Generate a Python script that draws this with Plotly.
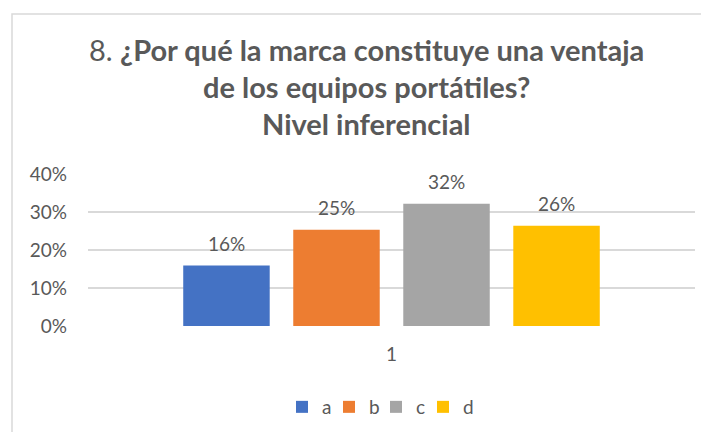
import plotly.graph_objects as go

categories = ["1"]
series_names = ["a", "b", "c", "d"]
series_values = [[0.159], [0.253], [0.322], [0.264]]
series_labels = ["16%", "25%", "32%", "26%"]
colors = ["#4472C4", "#ED7D31", "#A5A5A5", "#FFC000"]
y_ticks = [0, 0.1, 0.2, 0.3, 0.4]
y_ticklabels = ["0%", "10%", "20%", "30%", "40%"]

TXT = "#595959"
FONT = "Lato, Open Sans, sans-serif"
BARGAP = 0.275
BARGROUPGAP = 0.214

fig = go.Figure()
for name, vals, col in zip(series_names, series_values, colors):
    fig.add_trace(go.Bar(
        x=categories, y=vals, name=name, marker=dict(color=col, line=dict(width=0)),
    ))
# invisible spacer legend entry so the last label is not clipped
fig.add_trace(go.Scatter(x=[None], y=[None], mode="markers", name=" ",
                         marker=dict(color="rgba(0,0,0,0)"), hoverinfo="skip"))

# page has an 8px body margin, so work in figure coords = page coords - 8
OFF = 8
W, H = 709 - OFF, 432 - OFF
L, T = 88 - OFF, 174 - OFF
R = W - (695 - OFF)
B = H - (326 - OFF)
pw, ph = W - L - R, H - T - B

def py(page_y):
    return (H - B - (page_y - OFF)) / ph

def px(page_x):
    return ((page_x - OFF) - L) / pw

fig.update_layout(
    width=W, height=H,
    margin=dict(l=L, r=R, t=T, b=B, autoexpand=False),
    paper_bgcolor="white", plot_bgcolor="white",
    barmode="group", bargap=BARGAP, bargroupgap=BARGROUPGAP,
    font=dict(family=FONT, color=TXT, size=19),
    showlegend=True,
    legend=dict(orientation="h", x=px(282), xanchor="left", y=py(407), yanchor="middle",
                font=dict(size=19, color=TXT), entrywidth=2, entrywidthmode="pixels",
                traceorder="normal"),
    xaxis=dict(showgrid=False, showline=False, zeroline=False, ticks="", automargin=False,
               tickfont=dict(size=19, color=TXT), ticklabelstandoff=15),
    yaxis=dict(range=[0, 0.4], tickvals=y_ticks, ticktext=y_ticklabels, automargin=False,
               showgrid=True, gridcolor="#D9D9D9", gridwidth=1.5, zeroline=False,
               showline=False, ticks="", tickfont=dict(size=19, color=TXT),
               ticklabelstandoff=20),
)

# data labels above bars, positioned by the axis scales
n = len(series_names)
slot = (1 - BARGAP) / n
for i, (vals, lab) in enumerate(zip(series_values, series_labels)):
    xoff = -0.5 + BARGAP / 2 + slot * (i + 0.5)
    fig.add_annotation(text=lab, x=xoff, y=vals[0], xref="x", yref="y",
                       showarrow=False, yanchor="bottom", yshift=9,
                       font=dict(size=19, color=TXT, family=FONT))

title_lines = [
    "8. <b>¿Por qué la marca constituye una ventaja</b>",
    "<b>de los equipos portátiles?</b>",
    "<b>Nivel inferencial</b>",
]
title_y = [50, 86, 123]
for line, yy in zip(title_lines, title_y):
    fig.add_annotation(text=line, xref="paper", yref="paper",
                       x=px(366), y=py(yy), xanchor="center", yanchor="middle",
                       showarrow=False, font=dict(size=29, color=TXT, family=FONT))

# chart border
fig.add_shape(type="rect", xref="paper", yref="paper",
              x0=px(12), x1=px(760), y0=py(480), y1=py(14),
              line=dict(color="#D9D9D9", width=1.5), fillcolor="rgba(0,0,0,0)", layer="below")

fig.write_html("out.html")
